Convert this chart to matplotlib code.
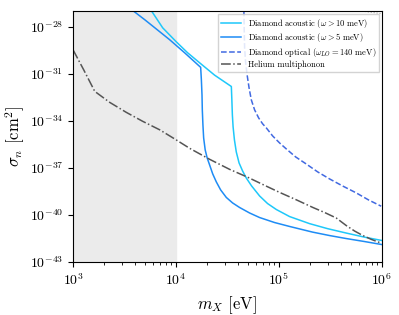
# Límites de sección eficaz: diamante vs helio
import numpy as np
import matplotlib
matplotlib.use('Agg')
import matplotlib.pyplot as plt
from matplotlib.ticker import NullLocator

plt.rcParams['font.family'] = 'serif'
plt.rcParams['font.serif'] = ['cmr10', 'DejaVu Serif']
plt.rcParams['mathtext.fontset'] = 'cm'
plt.rcParams['axes.formatter.use_mathtext'] = True

# log10(m_X / eV), log10(sigma_n / cm^2)
ac10_logm = [3.761, 3.871, 4.003, 4.113, 4.230, 4.376, 4.538, 4.543, 4.548,
             4.555, 4.568, 4.586, 4.613, 4.647, 4.683, 4.735, 4.813, 4.890,
             4.975, 5.104, 5.298, 5.473, 5.654, 5.831, 5.997]
ac10_logs = [-26.98, -28.07, -28.96, -29.66, -30.30, -31.09, -31.81, -32.66,
             -33.62, -34.38, -35.21, -35.98, -36.68, -37.19, -37.64, -38.15,
             -38.79, -39.27, -39.65, -40.10, -40.55, -40.87, -41.15, -41.41,
             -41.62]

ac5_logm = [3.583, 3.696, 3.812, 3.939, 4.084, 4.240, 4.247, 4.253, 4.256,
            4.262, 4.269, 4.284, 4.303, 4.327, 4.357, 4.392, 4.434, 4.489,
            4.550, 4.618, 4.715, 4.812, 4.958, 5.104, 5.327, 5.493, 5.654,
            5.831, 5.997]
ac5_logs = [-26.98, -27.55, -28.16, -28.83, -29.66, -30.59, -31.40, -32.35,
            -33.30, -34.26, -35.09, -35.85, -36.36, -36.81, -37.38, -37.89,
            -38.40, -38.88, -39.23, -39.52, -39.87, -40.16, -40.48, -40.73,
            -41.09, -41.31, -41.50, -41.69, -41.88]

opt_logm = [4.660, 4.663, 4.667, 4.676, 4.691, 4.710, 4.732, 4.764, 4.803,
            4.842, 4.878, 4.939, 5.007, 5.072, 5.163, 5.266, 5.376, 5.492,
            5.619, 5.751, 5.871, 5.994]
opt_logs = [-26.98, -28.19, -29.34, -30.23, -31.06, -31.89, -32.66, -33.30,
            -33.81, -34.19, -34.45, -34.96, -35.41, -35.79, -36.30, -36.75,
            -37.25, -37.70, -38.15, -38.59, -39.04, -39.44]

he_logm = [3.0, 3.104, 3.211, 3.356, 3.518, 3.677, 3.842, 3.987, 4.133,
           4.327, 4.521, 4.699, 4.861, 5.007, 5.172, 5.330, 5.444, 5.557,
           5.654, 5.735, 5.816, 5.900, 5.997]
he_logs = [-29.47, -30.75, -32.12, -32.82, -33.46, -34.03, -34.57, -35.15,
           -35.75, -36.45, -37.09, -37.60, -38.11, -38.56, -39.04, -39.52,
           -39.84, -40.19, -40.67, -41.02, -41.31, -41.56, -41.80]

# tramo gris tenue arriba a la derecha (sin leyenda)
top_logm = [5.75, 5.997]
top_logs = [-26.95, -27.17]

fig = plt.figure(figsize=(3.99, 3.15), dpi=100)
ax = fig.add_axes([0.183, 0.168, 0.774, 0.797])

ax.axvspan(1e3, 1e4, color='#ebebeb', zorder=0)

ax.plot(10**np.array(ac10_logm), 10**np.array(ac10_logs), color='#1ec8fa', lw=1.1,
        label=r'Diamond acoustic ($\omega > 10$ meV)')
ax.plot(10**np.array(ac5_logm), 10**np.array(ac5_logs), color='#1e8cf5', lw=1.1,
        label=r'Diamond acoustic ($\omega > 5$ meV)')
ax.plot(10**np.array(opt_logm), 10**np.array(opt_logs), color='#4169e1', lw=1.1,
        ls='--', label=r'Diamond optical ($\omega_{LO} = 140$ meV)')
ax.plot(10**np.array(he_logm), 10**np.array(he_logs), color='#555555', lw=1.1,
        ls='-.', label='Helium multiphonon')
ax.plot(10**np.array(top_logm), 10**np.array(top_logs), color='#aaaaaa', lw=0.8,
        ls=':')

ax.set_xscale('log')
ax.set_yscale('log')
ax.set_xlim(1e3, 1e6)
ax.set_ylim(1e-43, 1e-27)
ax.set_yticks([1e-43, 1e-40, 1e-37, 1e-34, 1e-31, 1e-28])
ax.yaxis.set_minor_locator(NullLocator())
ax.tick_params(labelsize=10)

ax.set_xlabel(r'$m_X$ [eV]', fontsize=12)
ax.set_ylabel(r'$\sigma_n$ [cm$^2$]', fontsize=12)
ax.yaxis.set_label_coords(-0.150, 0.5)

ax.legend(loc='upper right', fontsize=6.1, framealpha=0.85, fancybox=False,
          borderaxespad=0.3, labelspacing=0.2, handlelength=2.4,
          borderpad=0.35)

fig.savefig('out.png', dpi=100)
